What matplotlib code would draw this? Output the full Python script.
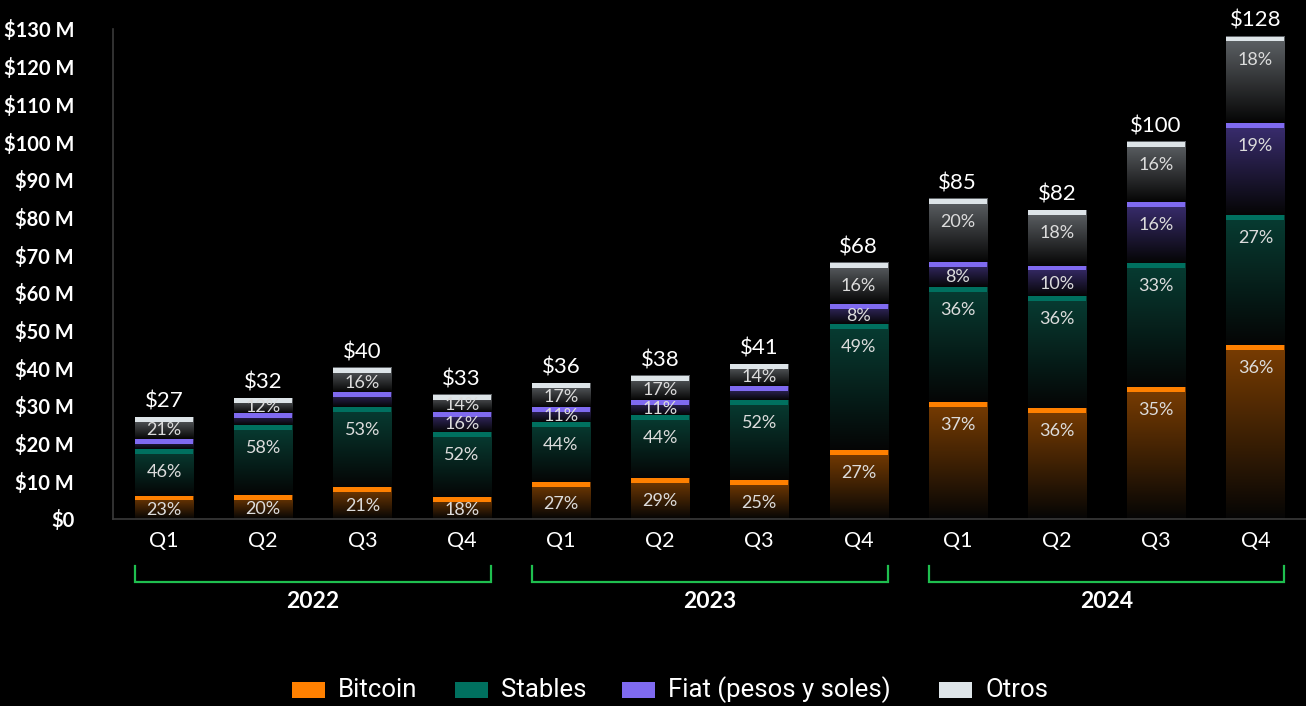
import numpy as np
import matplotlib
matplotlib.use("Agg")
import matplotlib.pyplot as plt
import matplotlib.transforms as mtransforms
from matplotlib.patches import Rectangle
from matplotlib.colors import to_rgb

# ---- data -------------------------------------------------------------
quarters = ["Q1", "Q2", "Q3", "Q4"] * 3
years = ["2022", "2023", "2024"]
totals = [27, 32, 40, 33, 36, 38, 41, 68, 85, 82, 100, 128]
bitcoin_pct = [23, 20, 21, 18, 27, 29, 25, 27, 37, 36, 35, 36]
stables_pct = [46, 58, 53, 52, 44, 44, 52, 49, 36, 36, 33, 27]
fiat_pct = [10, 10, 10, 16, 11, 11, 9, 8, 8, 10, 16, 19]
otros_pct = [21, 12, 16, 14, 17, 17, 14, 16, 20, 18, 16, 18]
fiat_labelled = [False, False, False, True, True, True, False, True, True, True, True, True]
series_names = ["Bitcoin", "Stables", "Fiat (pesos y soles)", "Otros"]

# ---- style ------------------------------------------------------------
cap_colors = ["#ff8000", "#00705f", "#7f6af0", "#dde4e8"]
body_colors = ["#7a3d02", "#073d33", "#3b2e72", "#606468"]
BG = "#000000"
TXT = "#ffffff"
PCT_TXT = "#dcdcdc"
BRACKET = "#1fbf4f"
FONT = ["Lato", "DejaVu Sans"]

plt.rcParams["font.family"] = FONT

fig = plt.figure(figsize=(13.06, 7.06), dpi=100, facecolor=BG)
ax = fig.add_axes([113 / 1306, 187 / 706, (1306 - 113) / 1306, 490 / 706])
ax.set_facecolor(BG)

x = np.arange(len(totals))
bar_w = 0.585
ax.set_xlim(-0.514, 11.51)
ax.set_ylim(0, 130)

cap_h = 1.3
series = [bitcoin_pct, stables_pct, fiat_pct, otros_pct]

for i in x:
    pcts = [s[i] for s in series]
    scale = totals[i] / sum(pcts)
    bottom = 0.0
    for k, p in enumerate(pcts):
        h = p * scale
        top = bottom + h
        # vertical gradient: series colour at the top fading to black
        c0 = np.array(to_rgb(body_colors[k]))
        c1 = np.array([0.02, 0.02, 0.02])
        t = np.linspace(0, 1, 256)[:, None]
        grad = (c0 * (1 - t) + c1 * t)[:, None, :]
        ax.imshow(grad, extent=(i - bar_w / 2, i + bar_w / 2, bottom, top),
                  aspect="auto", origin="upper", interpolation="bilinear", zorder=2)
        ax.add_patch(Rectangle((i - bar_w / 2, top - cap_h), bar_w, cap_h,
                               facecolor=cap_colors[k], edgecolor="none", zorder=3))
        show = not (k == 2 and not fiat_labelled[i])
        if show:
            ly = top - min(0.6 * h, 6.1)
            ax.text(i, ly, f"{p}%", ha="center", va="center", color=PCT_TXT,
                    fontsize=13, fontweight="normal", zorder=4)
        bottom = top
    ax.annotate(f"${totals[i]}", (i, totals[i]), xytext=(0, 4), textcoords="offset points",
                ha="center", va="bottom", color=TXT, fontsize=16, fontweight="normal")

# ---- axes -------------------------------------------------------------
ax.set_yticks(np.arange(0, 131, 10))
ax.set_yticklabels(["$0"] + [f"${v} M" for v in range(10, 131, 10)])
ax.tick_params(axis="y", length=0, pad=28, labelsize=14.5, colors=TXT)
for lab in ax.get_yticklabels():
    lab.set_fontweight("bold")
    lab.set_horizontalalignment("right")

ax.set_xticks(x)
ax.set_xticklabels(quarters)
ax.tick_params(axis="x", length=0, pad=9, labelsize=15.5, colors=TXT)

for side in ["top", "right"]:
    ax.spines[side].set_visible(False)
ax.spines["left"].set_color("#3a3a3a")
ax.spines["bottom"].set_color("#3a3a3a")
ax.spines["left"].set_linewidth(1.2)
ax.spines["bottom"].set_linewidth(1.2)

# year brackets below the quarter labels
trans = mtransforms.blended_transform_factory(ax.transData, ax.transAxes)
y_hi = (519 - 566) / 490
y_lo = (519 - 582) / 490
y_year = (519 - 601) / 490
for g, yr in enumerate(years):
    x0 = 4 * g - bar_w / 2
    x1 = 4 * g + 3 + bar_w / 2
    ax.plot([x0, x0, x1, x1], [y_hi, y_lo, y_lo, y_hi], color=BRACKET, lw=1.6,
            transform=trans, clip_on=False, solid_joinstyle="miter")
    ax.text((x0 + x1) / 2, y_year, yr, transform=trans, ha="center", va="center",
            color=TXT, fontsize=16.5, fontweight="bold")

# ---- legend ------------------------------------------------------------
legend_sq = [292, 455, 622, 939]
for k, name in enumerate(series_names):
    fx = legend_sq[k] / 1306
    fig.patches.append(Rectangle((fx, (706 - 698) / 706), 33 / 1306, 16 / 706,
                                 transform=fig.transFigure, facecolor=cap_colors[k],
                                 edgecolor="none"))
    fig.text((legend_sq[k] + 46) / 1306, (706 - 690) / 706, name, ha="left", va="center",
             color=TXT, fontsize=18.5,
             family=["Liberation Sans Narrow", "Roboto", "DejaVu Sans"])

fig.savefig("out.png", dpi=100, facecolor=BG)
